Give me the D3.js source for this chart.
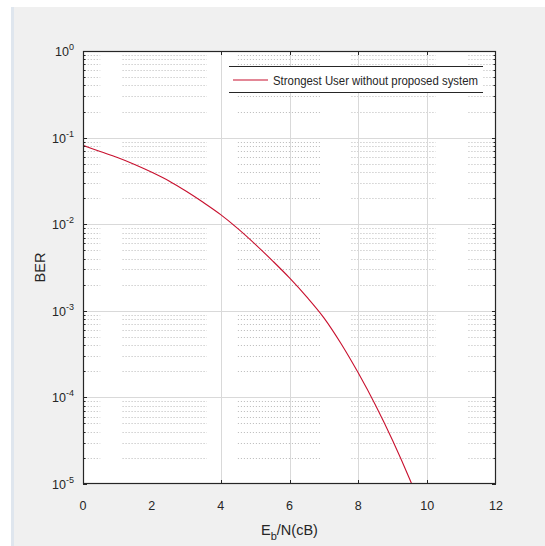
<!DOCTYPE html>
<html>
<head>
<meta charset="utf-8">
<script src="https://cdn.jsdelivr.net/npm/d3@7"></script>
<style>
  html, body { margin: 0; padding: 0; background: #ffffff; }
  svg { display: block; }
  text { font-family: "Liberation Sans", Arial, sans-serif; fill: #262626; }
</style>
</head>
<body>
<svg id="chart" width="545" height="546"></svg>
<script>
// ---- data ----
const ebno = [0, 0.5, 1, 1.5, 2, 2.5, 3, 3.5, 4, 4.5, 5, 5.5, 6, 6.5, 7, 7.5, 8, 8.5, 9, 9.5, 10];
const berStrongest = [0.0813, 0.0692, 0.0589, 0.0490, 0.0398, 0.0316, 0.0240, 0.0178, 0.0129, 0.0089,
  0.0059, 0.0038, 0.0024, 0.00145, 0.00083, 0.000417, 0.000191, 0.0000813, 0.0000316, 0.0000112, 0.0000036];
const seriesName = "Strongest User without proposed system";
const xTicks = [0, 2, 4, 6, 8, 10, 12];
const xGridTicks = [4, 6, 8, 10];
const yExponents = [0, -1, -2, -3, -4, -5];
const xLabel = "E";
const xLabelSub = "b";
const xLabelRest = "/N(cB)";
const yLabel = "BER";
// visible spans of the dotted minor grid (x units)
const minorSpans = [[0.05, 0.5], [1.15, 3.6], [4.5, 6.9], [7.8, 10.25], [11.2, 11.95]];

const svg = d3.select("#chart");
const W = 545, H = 546;
const m = { left: 83, right: 496, top: 51, bottom: 484 };

// figure background
svg.append("rect").attr("x", 0).attr("y", 0).attr("width", W).attr("height", H).attr("fill", "#ffffff");
svg.append("rect").attr("x", 11).attr("y", 7).attr("width", W - 11).attr("height", H - 7).attr("fill", "#f0f0f0");
svg.append("rect").attr("x", 11).attr("y", 7).attr("width", 3).attr("height", H - 7).attr("fill", "#dfe6ee");

const x = d3.scaleLinear().domain([0, 12]).range([m.left, m.right]);
const y = d3.scaleLog().domain([1e-5, 1]).range([m.bottom, m.top]);

// plot area
svg.append("rect").attr("x", m.left).attr("y", m.top)
  .attr("width", m.right - m.left).attr("height", m.bottom - m.top).attr("fill", "#ffffff");

const clip = svg.append("defs").append("clipPath").attr("id", "plotclip");
clip.append("rect").attr("x", m.left).attr("y", m.top)
  .attr("width", m.right - m.left).attr("height", m.bottom - m.top);

// minor values
const minorVals = [];
yExponents.slice(1).forEach(e => {
  for (let k = 2; k <= 9; k++) minorVals.push(k * Math.pow(10, e));
});

// dotted minor grid
const gMinor = svg.append("g");
minorVals.forEach(v => {
  minorSpans.forEach(s => {
    gMinor.append("line")
      .attr("x1", x(s[0])).attr("x2", x(s[1]))
      .attr("y1", Math.round(y(v)) + 0.5).attr("y2", Math.round(y(v)) + 0.5)
      .attr("stroke", "#b8b8b8").attr("stroke-width", 1)
      .attr("stroke-dasharray", "1,2");
  });
});

// major grid
const gGrid = svg.append("g");
yExponents.slice(1, -1).forEach(e => {
  const yy = Math.round(y(Math.pow(10, e))) + 0.5;
  gGrid.append("line").attr("x1", m.left).attr("x2", m.right).attr("y1", yy).attr("y2", yy)
    .attr("stroke", "#d9d9d9").attr("stroke-width", 1);
});
xGridTicks.forEach(t => {
  const xx = Math.round(x(t)) + 0.5;
  gGrid.append("line").attr("x1", xx).attr("x2", xx).attr("y1", m.top).attr("y2", m.bottom)
    .attr("stroke", "#d9d9d9").attr("stroke-width", 1);
});

// curve
const line = d3.line().curve(d3.curveMonotoneX).x((d, i) => x(ebno[i])).y(d => y(d));
svg.append("path").datum(berStrongest)
  .attr("clip-path", "url(#plotclip)")
  .attr("d", line)
  .attr("fill", "none").attr("stroke", "#c8102e").attr("stroke-width", 1.1);

// axes box
const axisColor = "#262626";
svg.append("rect").attr("x", m.left + 0.5).attr("y", m.top + 0.5)
  .attr("width", m.right - m.left - 1).attr("height", m.bottom - m.top - 1)
  .attr("fill", "none").attr("stroke", axisColor).attr("stroke-width", 1.2);

// x ticks (inward, top & bottom)
const gTicks = svg.append("g").attr("stroke", axisColor).attr("stroke-width", 1);
xGridTicks.forEach(t => {
  const xx = Math.round(x(t)) + 0.5;
  gTicks.append("line").attr("x1", xx).attr("x2", xx).attr("y1", m.bottom).attr("y2", m.bottom - 4);
  gTicks.append("line").attr("x1", xx).attr("x2", xx).attr("y1", m.top).attr("y2", m.top + 4);
});
// y ticks major & minor (inward, left & right)
yExponents.forEach(e => {
  const yy = Math.round(y(Math.pow(10, e))) + 0.5;
  gTicks.append("line").attr("x1", m.left).attr("x2", m.left + 4).attr("y1", yy).attr("y2", yy);
  gTicks.append("line").attr("x1", m.right).attr("x2", m.right - 4).attr("y1", yy).attr("y2", yy);
});
minorVals.forEach(v => {
  const yy = Math.round(y(v)) + 0.5;
  gTicks.append("line").attr("x1", m.left).attr("x2", m.left + 2.5).attr("y1", yy).attr("y2", yy);
  gTicks.append("line").attr("x1", m.right).attr("x2", m.right - 2.5).attr("y1", yy).attr("y2", yy);
});

// x tick labels
xTicks.forEach(t => {
  svg.append("text").attr("x", x(t)).attr("y", 510)
    .attr("text-anchor", "middle").attr("font-size", 12.5).text(t);
});

// y tick labels 10^e
yExponents.forEach(e => {
  const yy = y(Math.pow(10, e));
  const t = svg.append("text").attr("x", 74).attr("y", yy + 5)
    .attr("text-anchor", "end").attr("font-size", 12.5);
  t.append("tspan").text("10");
  t.append("tspan").attr("dy", -6).attr("font-size", 9).text(e === 0 ? "0" : "-" + Math.abs(e));
});

// axis labels
const xl = svg.append("text").attr("x", x(6)).attr("y", 535)
  .attr("text-anchor", "middle").attr("font-size", 14.5);
xl.append("tspan").text(xLabel);
xl.append("tspan").attr("dy", 5).attr("font-size", 11).text(xLabelSub);
xl.append("tspan").attr("dy", -5).text(xLabelRest);

svg.append("text").attr("transform", `translate(45,${(m.top + m.bottom) / 2}) rotate(-90)`)
  .attr("text-anchor", "middle").attr("font-size", 14.5).text(yLabel);

// legend
const lg = svg.append("g");
lg.append("rect").attr("x", 229).attr("y", 66).attr("width", 254).attr("height", 26).attr("fill", "#ffffff");
lg.append("line").attr("x1", 229).attr("x2", 483).attr("y1", 66.5).attr("y2", 66.5).attr("stroke", axisColor).attr("stroke-width", 1.2);
lg.append("line").attr("x1", 229).attr("x2", 483).attr("y1", 92.5).attr("y2", 92.5).attr("stroke", axisColor).attr("stroke-width", 1.2);
lg.append("line").attr("x1", 233).attr("x2", 268).attr("y1", 80).attr("y2", 80)
  .attr("stroke", "#c8102e").attr("stroke-width", 1.1);
lg.append("text").attr("x", 273).attr("y", 84.5).attr("font-size", 12)
  .attr("textLength", 205).attr("lengthAdjust", "spacingAndGlyphs").text(seriesName);
</script>
</body>
</html>
